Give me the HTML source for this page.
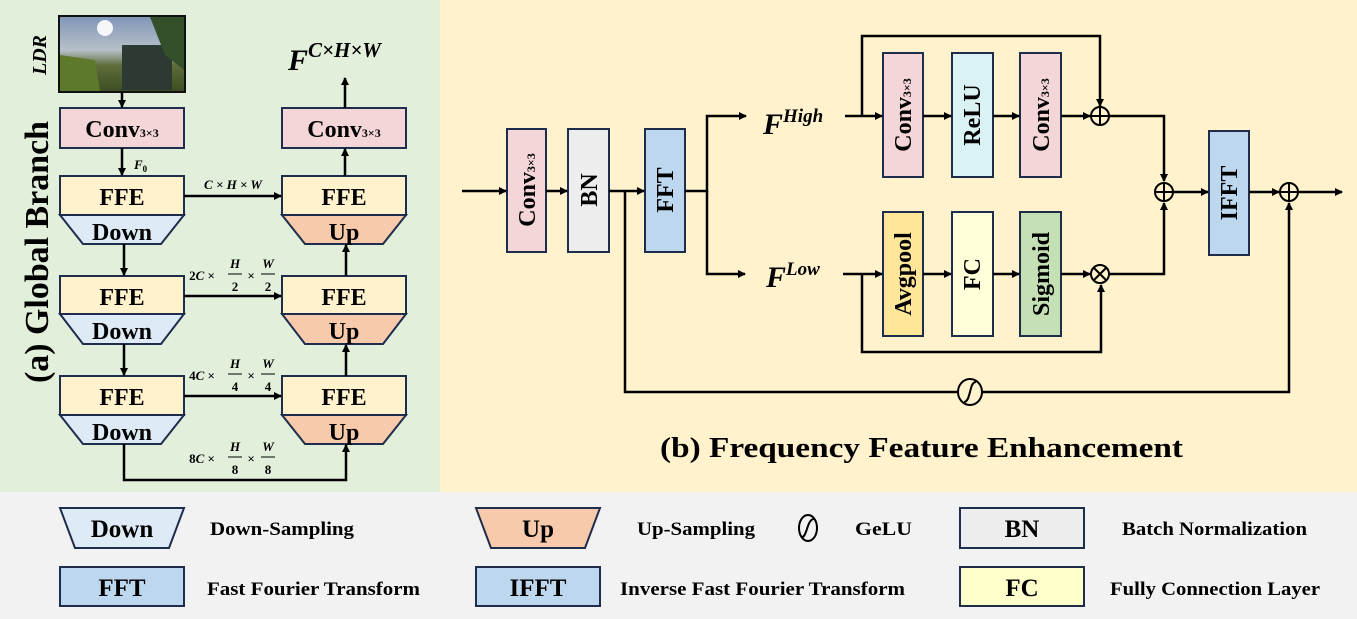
<!DOCTYPE html>
<html><head><meta charset="utf-8"><style>
html,body{margin:0;padding:0;background:#f2f2f2}
svg{display:block}
text{font-family:"Liberation Serif",serif;font-weight:bold;fill:#000}
</style></head><body>
<svg width="1357" height="619" viewBox="0 0 1357 619" xmlns="http://www.w3.org/2000/svg">
<defs>
<marker id="a" markerWidth="8" markerHeight="8" refX="7" refY="4" orient="auto" markerUnits="userSpaceOnUse"><path d="M0,0 L8,4 L0,8 Z" fill="#000"/></marker>
<linearGradient id="sky" x1="0" y1="0" x2="0" y2="1"><stop offset="0" stop-color="#7f95b8"/><stop offset="0.45" stop-color="#b7c0c8"/><stop offset="0.65" stop-color="#5f6d3a"/><stop offset="1" stop-color="#3d4d22"/></linearGradient>
</defs>
<rect x="0" y="0" width="1357" height="619" fill="#f2f2f2"/>
<rect x="0" y="0" width="440" height="492" fill="#e2efda"/>
<rect x="440" y="0" width="917" height="492" fill="#fff2cc"/>

<!-- LEFT PANEL -->
<text transform="translate(48,252) rotate(-90)" font-size="34" text-anchor="middle" textLength="262" lengthAdjust="spacingAndGlyphs">(a) Global Branch</text>
<text transform="translate(46,55) rotate(-90)" font-size="20" font-style="italic" text-anchor="middle">LDR</text>
<rect x="59" y="16" width="126" height="76" fill="url(#sky)" stroke="#111" stroke-width="2"/>
<circle cx="105" cy="28" r="8" fill="#fff" opacity="0.9"/>
<rect x="122" y="45" width="50" height="45" fill="#2c3a33"/>
<path d="M150 17 L184 17 L184 70 L165 55 Z" fill="#34502a"/>
<path d="M60 55 L95 60 L100 91 L60 91 Z" fill="#5d7a2c"/>

<g stroke="#1f2d4d" stroke-width="2">
<rect x="60" y="108" width="124" height="40" fill="#f4d6d8"/>
<rect x="282" y="108" width="124" height="40" fill="#f4d6d8"/>
<rect x="60" y="176" width="124" height="39" fill="#fff2cc"/>
<path d="M60 215 L184 215 L161 244 L83 244 Z" fill="#deebf6"/>
<rect x="60" y="276" width="124" height="38" fill="#fff2cc"/>
<path d="M60 314 L184 314 L161 344 L83 344 Z" fill="#deebf6"/>
<rect x="60" y="376" width="124" height="39" fill="#fff2cc"/>
<path d="M60 415 L184 415 L161 444 L83 444 Z" fill="#deebf6"/>
<rect x="282" y="176" width="124" height="39" fill="#fff2cc"/>
<path d="M282 215 L406 215 L383 244 L305 244 Z" fill="#f7caac"/>
<rect x="282" y="276" width="124" height="38" fill="#fff2cc"/>
<path d="M282 314 L406 314 L383 344 L305 344 Z" fill="#f7caac"/>
<rect x="282" y="376" width="124" height="39" fill="#fff2cc"/>
<path d="M282 415 L406 415 L383 444 L305 444 Z" fill="#f7caac"/>
</g>
<g font-size="24" text-anchor="middle">
<text x="122" y="137">Conv<tspan font-size="12">3×3</tspan></text>
<text x="344" y="137">Conv<tspan font-size="12">3×3</tspan></text>
<text x="122" y="205">FFE</text><text x="122" y="240">Down</text>
<text x="122" y="305">FFE</text><text x="122" y="339">Down</text>
<text x="122" y="405">FFE</text><text x="122" y="440">Down</text>
<text x="344" y="205">FFE</text><text x="344" y="240">Up</text>
<text x="344" y="305">FFE</text><text x="344" y="339">Up</text>
<text x="344" y="405">FFE</text><text x="344" y="440">Up</text>
</g>
<text x="288" y="70" font-size="30" font-style="italic">F<tspan font-size="21" dy="-13">C×H×W</tspan></text>
<text x="134" y="169" font-size="13" font-style="italic">F<tspan font-size="9" dy="3" font-style="normal">0</tspan></text>
<g font-size="13" font-style="italic" text-anchor="middle">
<text x="233" y="189">C × H × W</text>
<text x="202" y="280" font-style="normal">2<tspan font-style="italic">C</tspan> ×</text>
<text x="235" y="268">H</text><text x="235" y="291" font-style="normal">2</text><text x="251" y="280">×</text><text x="268" y="268">W</text><text x="268" y="291" font-style="normal">2</text>
<text x="202" y="380" font-style="normal">4<tspan font-style="italic">C</tspan> ×</text>
<text x="235" y="368">H</text><text x="235" y="391" font-style="normal">4</text><text x="251" y="380">×</text><text x="268" y="368">W</text><text x="268" y="391" font-style="normal">4</text>
<text x="202" y="463" font-style="normal">8<tspan font-style="italic">C</tspan> ×</text>
<text x="235" y="451">H</text><text x="235" y="474" font-style="normal">8</text><text x="251" y="463">×</text><text x="268" y="451">W</text><text x="268" y="474" font-style="normal">8</text>
</g>
<g stroke="#000" stroke-width="1"><line x1="228" y1="274" x2="242" y2="274"/><line x1="261" y1="274" x2="275" y2="274"/><line x1="228" y1="374" x2="242" y2="374"/><line x1="261" y1="374" x2="275" y2="374"/><line x1="228" y1="457" x2="242" y2="457"/><line x1="261" y1="457" x2="275" y2="457"/></g>
<g stroke="#000" stroke-width="2.5" fill="none" marker-end="url(#a)">
<line x1="122" y1="92" x2="122" y2="107"/>
<line x1="122" y1="148" x2="122" y2="175"/>
<line x1="124" y1="244" x2="124" y2="275"/>
<line x1="124" y1="344" x2="124" y2="375"/>
<line x1="184" y1="196" x2="281" y2="196"/>
<line x1="184" y1="296" x2="281" y2="296"/>
<line x1="184" y1="396" x2="281" y2="396"/>
<line x1="346" y1="276" x2="346" y2="245"/>
<line x1="346" y1="376" x2="346" y2="345"/>
<line x1="345" y1="176" x2="345" y2="149"/>
<line x1="345" y1="108" x2="345" y2="78"/>
<path d="M124 444 L124 480 L346 480 L346 445"/>
</g>

<!-- RIGHT PANEL -->
<g stroke="#1f2d4d" stroke-width="2">
<rect x="507" y="129" width="39" height="123" fill="#f4d6d8"/>
<rect x="568" y="129" width="41" height="123" fill="#ededed"/>
<rect x="645" y="129" width="40" height="123" fill="#bdd7ee"/>
<rect x="883" y="53" width="40" height="124" fill="#f4d6d8"/>
<rect x="952" y="53" width="41" height="124" fill="#daf2f3"/>
<rect x="1020" y="53" width="41" height="124" fill="#f4d6d8"/>
<rect x="883" y="212" width="40" height="124" fill="#ffe699"/>
<rect x="952" y="212" width="41" height="124" fill="#ffffd9"/>
<rect x="1020" y="212" width="41" height="124" fill="#c5e0b4"/>
<rect x="1209" y="131" width="40" height="124" fill="#bdd7ee"/>
</g>
<g font-size="24">
<text transform="translate(535,190) rotate(-90)" text-anchor="middle">Conv<tspan font-size="12">3×3</tspan></text>
<text transform="translate(597,190) rotate(-90)" text-anchor="middle">BN</text>
<text transform="translate(673,190) rotate(-90)" text-anchor="middle">FFT</text>
<text transform="translate(911,115) rotate(-90)" text-anchor="middle">Conv<tspan font-size="12">3×3</tspan></text>
<text transform="translate(980,115) rotate(-90)" text-anchor="middle">ReLU</text>
<text transform="translate(1049,115) rotate(-90)" text-anchor="middle">Conv<tspan font-size="12">3×3</tspan></text>
<text transform="translate(911,274) rotate(-90)" text-anchor="middle">Avgpool</text>
<text transform="translate(980,274) rotate(-90)" text-anchor="middle">FC</text>
<text transform="translate(1049,274) rotate(-90)" text-anchor="middle">Sigmoid</text>
<text transform="translate(1237,193) rotate(-90)" text-anchor="middle">IFFT</text>
</g>
<text x="763" y="134" font-size="30" font-style="italic">F<tspan font-size="19" dy="-12">High</tspan></text>
<text x="766" y="287" font-size="30" font-style="italic">F<tspan font-size="19" dy="-12">Low</tspan></text>
<text x="660" y="457" font-size="29" textLength="523" lengthAdjust="spacingAndGlyphs">(b) Frequency Feature Enhancement</text>

<g stroke="#000" stroke-width="2.5" fill="none">
<line x1="462" y1="191" x2="506" y2="191" marker-end="url(#a)"/>
<line x1="546" y1="191" x2="567" y2="191" marker-end="url(#a)"/>
<line x1="609" y1="191" x2="644" y2="191" marker-end="url(#a)"/>
<path d="M685 191 L707 191 L707 116 L746 116" marker-end="url(#a)"/>
<path d="M707 191 L707 274 L745 274" marker-end="url(#a)"/>
<line x1="845" y1="116" x2="882" y2="116" marker-end="url(#a)"/>
<line x1="923" y1="116" x2="951" y2="116" marker-end="url(#a)"/>
<line x1="993" y1="116" x2="1019" y2="116" marker-end="url(#a)"/>
<line x1="1061" y1="116" x2="1090" y2="116" marker-end="url(#a)"/>
<path d="M862 116 L862 36 L1100 36 L1100 106" marker-end="url(#a)"/>
<line x1="843" y1="274" x2="882" y2="274" marker-end="url(#a)"/>
<line x1="923" y1="274" x2="951" y2="274" marker-end="url(#a)"/>
<line x1="993" y1="274" x2="1019" y2="274" marker-end="url(#a)"/>
<line x1="1061" y1="274" x2="1090" y2="274" marker-end="url(#a)"/>
<path d="M862 274 L862 352 L1101 352 L1101 285" marker-end="url(#a)"/>
<path d="M1110 116 L1164 116 L1164 181" marker-end="url(#a)"/>
<path d="M1110 274 L1164 274 L1164 203" marker-end="url(#a)"/>
<line x1="1174" y1="192" x2="1208" y2="192" marker-end="url(#a)"/>
<line x1="1249" y1="192" x2="1279" y2="192" marker-end="url(#a)"/>
<line x1="1299" y1="192" x2="1342" y2="192" marker-end="url(#a)"/>
<path d="M625 191 L625 392 L958 392"/>
<path d="M982 392 L1289 392 L1289 203" marker-end="url(#a)"/>
</g>
<g stroke="#000" stroke-width="2" fill="none">
<circle cx="1100" cy="116" r="9"/><line x1="1091" y1="116" x2="1109" y2="116"/><line x1="1100" y1="107" x2="1100" y2="125"/>
<circle cx="1164" cy="192" r="9"/><line x1="1155" y1="192" x2="1173" y2="192"/><line x1="1164" y1="183" x2="1164" y2="201"/>
<circle cx="1289" cy="192" r="9"/><line x1="1280" y1="192" x2="1298" y2="192"/><line x1="1289" y1="183" x2="1289" y2="201"/>
<circle cx="1100" cy="274" r="9"/><line x1="1094" y1="268" x2="1106" y2="280"/><line x1="1106" y1="268" x2="1094" y2="280"/>
<ellipse cx="970" cy="392" rx="12" ry="13"/><path d="M964 402 C968 402 969 395 970 392 C971 388 972 382 976 382"/>
</g>

<!-- LEGEND -->
<g stroke="#1f2d4d" stroke-width="2">
<path d="M60 508 L184 508 L169 548 L75 548 Z" fill="#deebf6"/>
<path d="M476 508 L600 508 L585 548 L491 548 Z" fill="#f7caac"/>
<rect x="960" y="508" width="124" height="40" fill="#ededed"/>
<rect x="60" y="567" width="124" height="39" fill="#bdd7ee"/>
<rect x="476" y="567" width="124" height="39" fill="#bdd7ee"/>
<rect x="960" y="567" width="124" height="39" fill="#ffffcc"/>
</g>
<ellipse cx="808" cy="528" rx="9" ry="13" fill="none" stroke="#000" stroke-width="2"/>
<path d="M802 537 C807 537 807 519 814 519" fill="none" stroke="#000" stroke-width="2"/>
<g font-size="25" text-anchor="middle">
<text x="122" y="537">Down</text><text x="538" y="537">Up</text><text x="1022" y="537">BN</text>
<text x="122" y="596">FFT</text><text x="538" y="596">IFFT</text><text x="1022" y="596">FC</text>
</g>
<g font-size="19" lengthAdjust="spacingAndGlyphs">
<text x="210" y="535" textLength="144" lengthAdjust="spacingAndGlyphs">Down-Sampling</text>
<text x="637" y="535" textLength="118" lengthAdjust="spacingAndGlyphs">Up-Sampling</text>
<text x="855" y="535" textLength="57" lengthAdjust="spacingAndGlyphs">GeLU</text>
<text x="1122" y="535" textLength="185" lengthAdjust="spacingAndGlyphs">Batch Normalization</text>
<text x="207" y="595" textLength="213" lengthAdjust="spacingAndGlyphs">Fast Fourier Transform</text>
<text x="620" y="595" textLength="285" lengthAdjust="spacingAndGlyphs">Inverse Fast Fourier Transform</text>
<text x="1110" y="595" textLength="210" lengthAdjust="spacingAndGlyphs">Fully Connection Layer</text>
</g>
</svg>
</body></html>
